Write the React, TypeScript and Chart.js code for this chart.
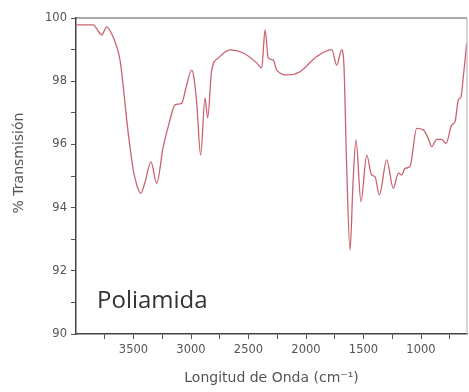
import React, { useEffect, useRef } from "react";
import { Chart, registerables } from "chart.js";

Chart.register(...registerables);

const wavenumbers = [
  3994, 3922, 3850, 3817, 3777, 3733, 3696, 3646, 3617, 3591, 3559, 3530, 3502, 3470, 3437, 3400,
  3348, 3298, 3243, 3183, 3139, 3081, 3043, 2994, 2974, 2950, 2916, 2878, 2855, 2820, 2763, 2661,
  2548, 2429, 2385, 2356, 2328, 2284, 2255, 2154, 2052, 1907, 1776, 1733, 1690, 1670, 1648, 1617,
  1591, 1565, 1522, 1472, 1429, 1400, 1362, 1298, 1241, 1197, 1168, 1139, 1096, 1037, 980, 937,
  907, 863, 820, 783, 733, 704, 675, 652, 632, 617, 603,
];

const transmission = [
  99.78, 99.78, 99.78, 99.65, 99.46, 99.72, 99.55, 99.09, 98.67, 97.9, 96.77, 95.9, 95.19, 94.7, 94.45, 94.8,
  95.45, 94.77, 95.9, 96.77, 97.25, 97.3, 97.8, 98.35, 98.1, 97.3, 95.66, 97.47, 96.84, 98.35, 98.73, 98.99,
  98.9, 98.58, 98.42, 99.62, 98.73, 98.67, 98.35, 98.2, 98.3, 98.78, 99.0, 98.51, 98.99, 98.5, 95.5, 92.66,
  94.8, 96.14, 94.19, 95.66, 95.03, 94.98, 94.4, 95.51, 94.61, 95.09, 95.03, 95.24, 95.3, 96.51, 96.46, 96.19,
  95.93, 96.16, 96.16, 96.03, 96.61, 96.72, 97.41, 97.51, 98.14, 98.67, 99.2,
];

const xTickValues = [750, 1000, 1250, 1500, 1750, 2000, 2250, 2500, 2750, 3000, 3250, 3500, 3750];
const xTickLabels = ["1000", "1500", "2000", "2500", "3000", "3500"];
const yTickValues = [90, 91, 92, 93, 94, 95, 96, 97, 98, 99, 100];
const yTickLabels = ["90", "92", "94", "96", "98", "100"];

const sampleLabel = "Poliamida";
const xTitle = "Longitud de Onda (cm⁻¹)";
const yTitle = "% Transmisión";

const FONT = "'DejaVu Sans', Verdana, sans-serif";

export default function App() {
  const ref = useRef<HTMLCanvasElement | null>(null);

  useEffect(() => {
    document.body.style.margin = "0";
    const canvas = ref.current;
    if (!canvas) return;

    const frame = {
      id: "frame",
      afterDraw(chart: any) {
        const { ctx, chartArea } = chart;
        ctx.save();
        ctx.lineWidth = 1.2;
        ctx.strokeStyle = "#555";
        ctx.beginPath();
        ctx.moveTo(chartArea.left, chartArea.top);
        ctx.lineTo(chartArea.right, chartArea.top);
        ctx.stroke();
        ctx.strokeStyle = "#bbb";
        ctx.beginPath();
        ctx.moveTo(chartArea.right, chartArea.top);
        ctx.lineTo(chartArea.right, chartArea.bottom);
        ctx.stroke();
        // sample name
        ctx.fillStyle = "#333";
        ctx.font = "24px 'Open Sans', sans-serif";
        ctx.textBaseline = "alphabetic";
        ctx.textAlign = "left";
        ctx.fillText(sampleLabel, chartArea.left + 21, 308);
        // y axis title
        ctx.translate(19, 163);
        ctx.rotate(-Math.PI / 2);
        ctx.fillStyle = "#555";
        ctx.font = `14px ${FONT}`;
        ctx.textAlign = "center";
        ctx.textBaseline = "middle";
        ctx.fillText(yTitle, 0, 0);
        ctx.restore();
      },
    };

    const chart = new Chart(canvas, {
      type: "line",
      data: {
        datasets: [
          {
            data: wavenumbers.map((w, i) => ({ x: w, y: transmission[i] })),
            borderColor: "#c9646f",
            borderWidth: 1.3,
            pointRadius: 0,
            fill: false,
            cubicInterpolationMode: "monotone",
          },
        ],
      },
      options: {
        animation: false,
        responsive: false,
        maintainAspectRatio: false,
        layout: { padding: { top: 18, right: 2, left: 0, bottom: 0 } },
        plugins: { legend: { display: false }, tooltip: { enabled: false } },
        scales: {
          x: {
            type: "linear",
            min: 600,
            max: 4000,
            reverse: true,
            afterBuildTicks: (scale: any) => {
              scale.ticks = xTickValues.map((v) => ({ value: v }));
            },
            afterFit: (scale: any) => {
              scale.height = 58;
            },
            ticks: {
              autoSkip: false,
              maxRotation: 0,
              padding: 4,
              color: "#555",
              font: { family: FONT, size: 11.5 },
              callback: (v: any) => (xTickLabels.includes(String(v)) ? String(v) : ""),
            },
            grid: { drawOnChartArea: false, tickLength: 5, color: "#555", lineWidth: 1 },
            border: { color: "#444", width: 1.5 },
            title: {
              display: true,
              text: xTitle,
              color: "#555",
              font: { family: FONT, size: 14 },
              padding: { top: 0, bottom: 5 },
            },
          },
          y: {
            type: "linear",
            min: 90,
            max: 100,
            afterBuildTicks: (scale: any) => {
              scale.ticks = yTickValues.map((v) => ({ value: v }));
            },
            afterFit: (scale: any) => {
              scale.width = 76;
            },
            ticks: {
              autoSkip: false,
              padding: 4,
              color: "#555",
              font: { family: FONT, size: 11.5 },
              callback: (v: any) => (yTickLabels.includes(String(v)) ? String(v) : ""),
            },
            grid: { drawOnChartArea: false, tickLength: 5, color: "#555", lineWidth: 1 },
            border: { color: "#444", width: 1.5 },
          },
        },
      },
      plugins: [frame],
    });

    return () => chart.destroy();
  }, []);

  return (
    <div style={{ width: 469, height: 392 }}>
      <canvas ref={ref} width={469} height={392} style={{ display: "block" }} />
    </div>
  );
}
